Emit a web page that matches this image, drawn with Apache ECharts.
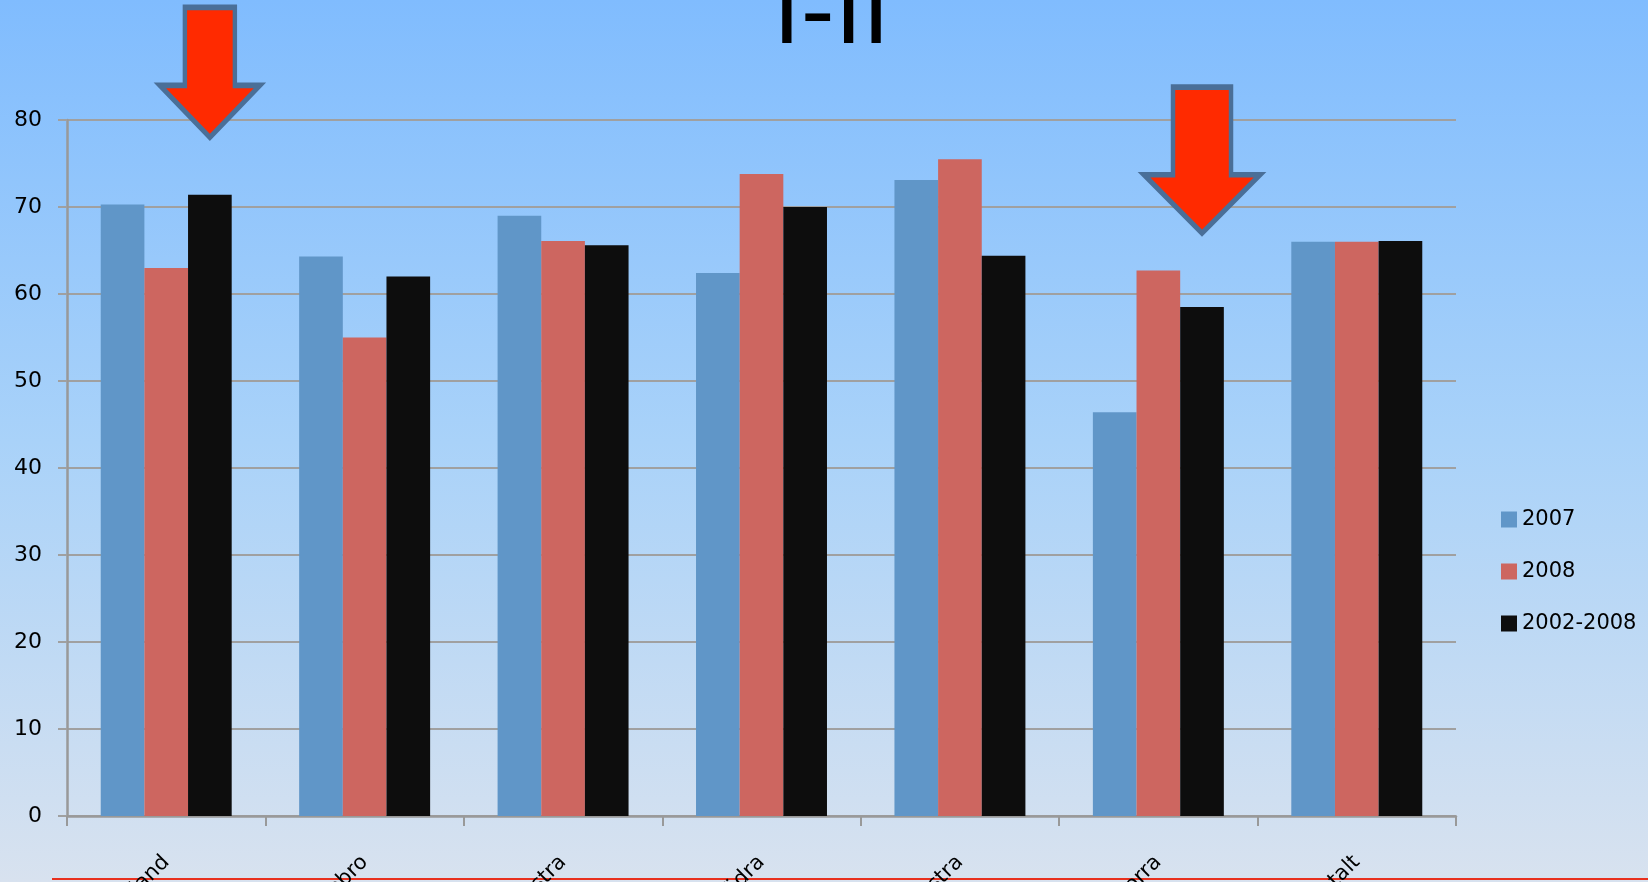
<!DOCTYPE html>
<html>
<head>
<meta charset="utf-8">
<script src="https://cdn.jsdelivr.net/npm/echarts@6/dist/echarts.min.js"></script>
<style>
  html, body { margin: 0; padding: 0; }
  #chart { width: 1648px; height: 882px; }
</style>
</head>
<body>
<div id="chart"></div>
<script>
// sjukvårdsregioner
const regions = ['Stockholm-Gotland', 'Uppsala-Örebro', 'Sydöstra', 'Södra', 'Västra', 'Norra', 'Totalt']
const seriesNames = ['2007', '2008', '2002-2008']
const values2007 = [70.3, 64.3, 69.0, 62.4, 73.1, 46.4, 66.0]
const values2008 = [63.0, 55.0, 66.1, 73.8, 75.5, 62.7, 66.0]
const values0208 = [71.4, 62.0, 65.6, 70.0, 64.4, 58.5, 66.1]
const colors = ['#6096c8', '#cd6660', '#0d0d0d']

// pilarna pekar på 2002-2008 staplarna
const arrowCats = ['Stockholm-Gotland', 'Norra']
const arrowTips = [78, 67]
const arrowSizes = [[100, 130], [116, 146]]

const font = 'DejaVu Sans'
const arrowPath = 'path://M25,0 L75,0 L75,60 L100,60 L50,100 L0,60 L25,60 Z'

const chart = echarts.init(document.getElementById('chart'))

const allValues = [values2007, values2008, values0208]
const series = seriesNames.map((name, i) => {
  const s = {
    name: name,
    type: 'bar',
    clip: false,
    barGap: 0,
    barCategoryGap: '34%',
    itemStyle: { color: colors[i] },
    data: allValues[i]
  }
  if (i === 2) {
    s.markPoint = {
      symbol: arrowPath,
      symbolKeepAspect: false,
      label: { show: false },
      itemStyle: { color: '#ff2a00', borderColor: '#4a6f98', borderWidth: 5 },
      data: arrowCats.map((c, k) => ({
        coord: [c, arrowTips[k]],
        symbolSize: arrowSizes[k],
        symbolOffset: [0, '-50%']
      }))
    }
  }
  return s
})

chart.setOption({
  animation: false,
  backgroundColor: new echarts.graphic.LinearGradient(0, 0, 0, 1, [
    { offset: 0, color: '#80bcfe' },
    { offset: 0.5, color: '#a9d2f9' },
    { offset: 1, color: '#d8e2ef' }
  ]),
  textStyle: { fontFamily: font },
  grid: {
    left: 67,
    right: 192,
    top: 120,
    bottom: 66,
    containLabel: false,
    outerBoundsMode: 'none'
  },
  legend: {
    orient: 'vertical',
    left: 1496,
    top: 504,
    itemWidth: 16,
    itemHeight: 16,
    itemGap: 31,
    icon: 'rect',
    textStyle: { fontFamily: font, fontSize: 21, color: '#000' },
    data: seriesNames
  },
  xAxis: {
    type: 'category',
    data: regions,
    axisLine: { lineStyle: { color: '#999', width: 2.5 } },
    axisTick: { show: true, length: 10, lineStyle: { color: '#999', width: 2 } },
    axisLabel: {
      interval: 0,
      rotate: 45,
      margin: 43,
      fontFamily: font,
      fontSize: 21,
      color: '#000'
    }
  },
  yAxis: {
    type: 'value',
    min: 0,
    max: 80,
    interval: 10,
    axisLine: { show: true, lineStyle: { color: '#999', width: 2.5 } },
    axisTick: { show: true, length: 9, lineStyle: { color: '#a0a0a0', width: 2 } },
    axisLabel: { margin: 25, fontFamily: font, fontSize: 22, color: '#000' },
    splitLine: { lineStyle: { color: '#a0a0a0', width: 2 } }
  },
  graphic: [
    {
      type: 'text',
      left: 773,
      top: -28,
      style: { text: 'I-II', font: '94px "DejaVu Sans"', fill: '#000' }
    },
    {
      type: 'line',
      shape: { x1: 52, y1: 879, x2: 1648, y2: 879 },
      style: { stroke: '#e8301e', lineWidth: 2 }
    }
  ],
  series: series
})
</script>
</body>
</html>
